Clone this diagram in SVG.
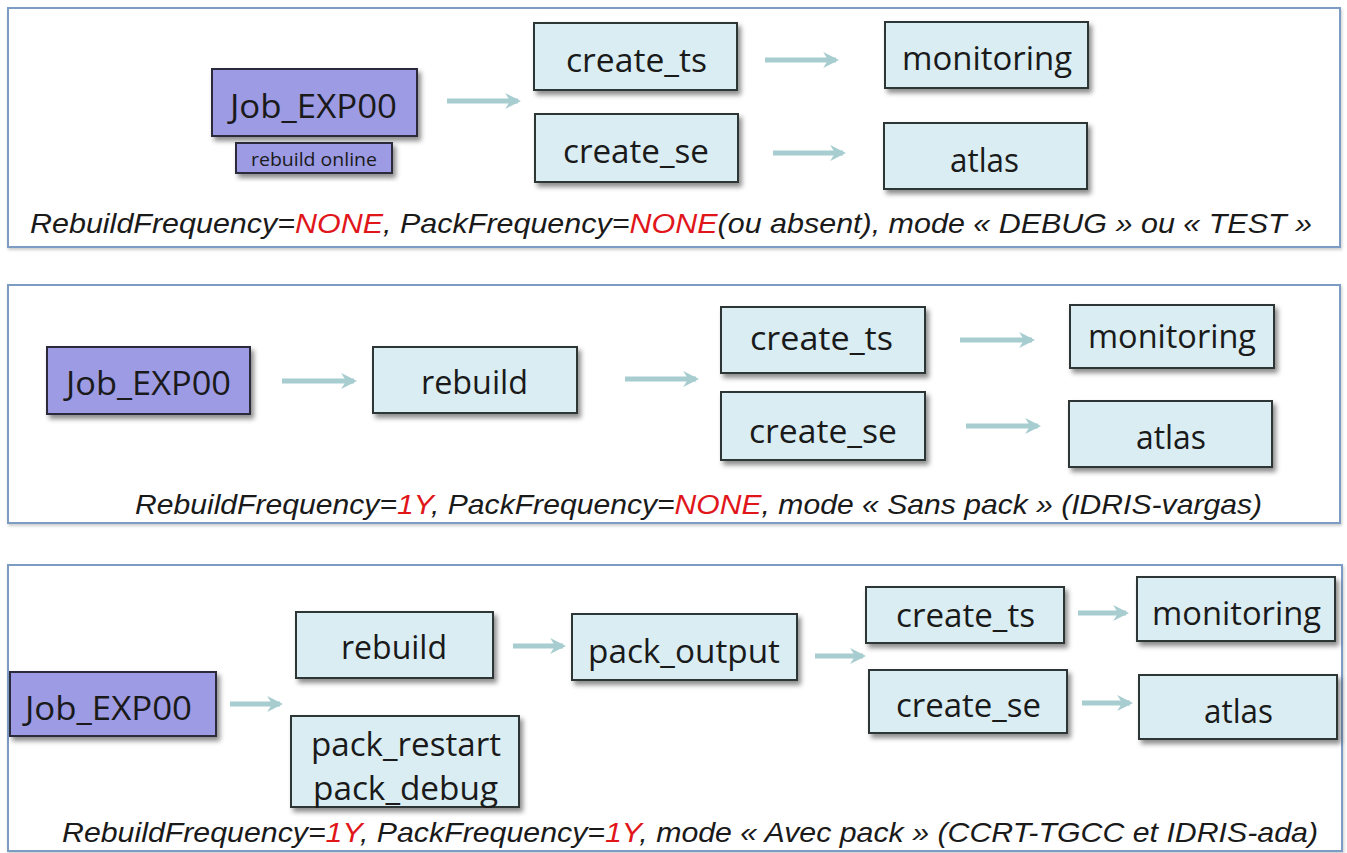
<svg xmlns="http://www.w3.org/2000/svg" width="1347" height="853" viewBox="0 0 1347 853">
<defs>
<filter id="sh" x="-10%" y="-10%" width="130%" height="140%">
<feDropShadow dx="3" dy="4" stdDeviation="2.5" flood-color="#000" flood-opacity="0.45"/>
</filter>
<filter id="psh" x="-2%" y="-5%" width="104%" height="110%">
<feDropShadow dx="1" dy="2" stdDeviation="1.5" flood-color="#000" flood-opacity="0.2"/>
</filter>
<marker id="ah" viewBox="0 0 10 10" refX="8" refY="5" markerWidth="3.2" markerHeight="3.2" orient="auto" markerUnits="strokeWidth">
<path d="M0,0 L10,5 L0,10 L3,5 Z" fill="#a8cdd0"/>
</marker>
</defs>
<style>
.panel{fill:#fff;stroke:#7d9cc4;stroke-width:2}
.job{fill:#9d9be4;stroke:#2a2a3a;stroke-width:2;filter:url(#sh)}
.task{fill:#d9edf3;stroke:#2f3435;stroke-width:2;filter:url(#sh)}
.t{font-family:"Open Sans","Noto Sans",sans-serif;font-size:32px;fill:#1a1a1a;text-anchor:start}
.s{font-family:"Open Sans","Noto Sans",sans-serif;font-size:19px;fill:#1a1a1a}
.cap{font-family:"Liberation Sans",Arial,sans-serif;font-style:italic;font-size:28px;fill:#1a1a1a}
.red{fill:#e0161b}
.arr{stroke:#a8cdd0;stroke-width:5;fill:none;marker-end:url(#ah)}
</style>
<rect width="1347" height="853" fill="#fff"/>

<g id="panels">
<rect class="panel" x="8" y="8" width="1332" height="239" filter="url(#psh)"/>
<rect class="panel" x="8" y="285" width="1332" height="238" filter="url(#psh)"/>
<rect class="panel" x="8" y="565" width="1334" height="286" filter="url(#psh)"/>
</g>

<g id="connectors">
<line class="arr" x1="447" y1="101" x2="518" y2="101"/>
<line class="arr" x1="765" y1="60" x2="836" y2="60"/>
<line class="arr" x1="773" y1="153" x2="843" y2="153"/>
<line class="arr" x1="282" y1="381" x2="354" y2="381"/>
<line class="arr" x1="625" y1="379" x2="696" y2="379"/>
<line class="arr" x1="960" y1="340" x2="1032" y2="340"/>
<line class="arr" x1="966" y1="426" x2="1038" y2="426"/>
<line class="arr" x1="230" y1="704" x2="280" y2="704"/>
<line class="arr" x1="513" y1="646" x2="563" y2="646"/>
<line class="arr" x1="815" y1="656" x2="863" y2="656"/>
<line class="arr" x1="1078" y1="613" x2="1126" y2="613"/>
<line class="arr" x1="1082" y1="703" x2="1130" y2="703"/>
</g>

<!-- Panel 1 -->
<g id="p1_job"><rect class="job" x="212" y="69" width="205" height="67"/><text class="t" x="230" y="118" textLength="167" lengthAdjust="spacingAndGlyphs">Job_EXP00</text></g>
<g id="p1_online"><rect class="job" x="236" y="143" width="156" height="30"/><text class="s" x="251" y="166" textLength="126" lengthAdjust="spacingAndGlyphs">rebuild online</text></g>
<g id="p1_create_ts"><rect class="task" x="534" y="23" width="203" height="67"/><text class="t" x="566" y="72" textLength="141" lengthAdjust="spacingAndGlyphs">create_ts</text></g>
<g id="p1_create_se"><rect class="task" x="535" y="114" width="203" height="68"/><text class="t" x="563" y="163" textLength="146" lengthAdjust="spacingAndGlyphs">create_se</text></g>
<g id="p1_monitoring"><rect class="task" x="885" y="22" width="203" height="66"/><text class="t" x="902" y="70" textLength="170" lengthAdjust="spacingAndGlyphs">monitoring</text></g>
<g id="p1_atlas"><rect class="task" x="884" y="123" width="203" height="66"/><text class="t" x="950" y="172" textLength="69" lengthAdjust="spacingAndGlyphs">atlas</text></g>
<text class="cap" x="30" y="233" textLength="1282" lengthAdjust="spacingAndGlyphs">RebuildFrequency=<tspan class="red">NONE</tspan>, PackFrequency=<tspan class="red">NONE</tspan>(ou absent), mode « DEBUG » ou « TEST »</text>

<!-- Panel 2 -->
<g id="p2_job"><rect class="job" x="47" y="347" width="203" height="67"/><text class="t" x="66" y="395" textLength="165" lengthAdjust="spacingAndGlyphs">Job_EXP00</text></g>
<g id="p2_rebuild"><rect class="task" x="373" y="347" width="204" height="66"/><text class="t" x="421" y="394" textLength="107" lengthAdjust="spacingAndGlyphs">rebuild</text></g>
<g id="p2_create_ts"><rect class="task" x="721" y="307" width="204" height="66"/><text class="t" x="750" y="350" textLength="143" lengthAdjust="spacingAndGlyphs">create_ts</text></g>
<g id="p2_create_se"><rect class="task" x="721" y="392" width="204" height="68"/><text class="t" x="749" y="443" textLength="148" lengthAdjust="spacingAndGlyphs">create_se</text></g>
<g id="p2_monitoring"><rect class="task" x="1070" y="305" width="204" height="63"/><text class="t" x="1088" y="348" textLength="168" lengthAdjust="spacingAndGlyphs">monitoring</text></g>
<g id="p2_atlas"><rect class="task" x="1069" y="401" width="203" height="66"/><text class="t" x="1136" y="449" textLength="70" lengthAdjust="spacingAndGlyphs">atlas</text></g>
<text class="cap" x="135" y="514" textLength="1127" lengthAdjust="spacingAndGlyphs">RebuildFrequency=<tspan class="red">1Y</tspan>, PackFrequency=<tspan class="red">NONE</tspan>, mode « Sans pack » (IDRIS-vargas)</text>

<!-- Panel 3 -->
<g id="p3_job"><rect class="job" x="10" y="672" width="206" height="64"/><text class="t" x="25" y="720" textLength="167" lengthAdjust="spacingAndGlyphs">Job_EXP00</text></g>
<g id="p3_rebuild"><rect class="task" x="296" y="612" width="197" height="66"/><text class="t" x="341" y="659" textLength="106" lengthAdjust="spacingAndGlyphs">rebuild</text></g>
<g id="p3_pack"><rect class="task" x="291" y="716" width="228" height="91"/><text class="t" x="311" y="756" textLength="190" lengthAdjust="spacingAndGlyphs">pack_restart</text><text class="t" x="313" y="800" textLength="185" lengthAdjust="spacingAndGlyphs">pack_debug</text></g>
<g id="p3_pack_output"><rect class="task" x="572" y="614" width="225" height="66"/><text class="t" x="588" y="663" textLength="192" lengthAdjust="spacingAndGlyphs">pack_output</text></g>
<g id="p3_create_ts"><rect class="task" x="866" y="587" width="198" height="56"/><text class="t" x="896" y="627" textLength="139" lengthAdjust="spacingAndGlyphs">create_ts</text></g>
<g id="p3_create_se"><rect class="task" x="869" y="670" width="198" height="63"/><text class="t" x="896" y="717" textLength="145" lengthAdjust="spacingAndGlyphs">create_se</text></g>
<g id="p3_monitoring"><rect class="task" x="1137" y="577" width="198" height="64"/><text class="t" x="1152" y="625" textLength="169" lengthAdjust="spacingAndGlyphs">monitoring</text></g>
<g id="p3_atlas"><rect class="task" x="1139" y="675" width="198" height="64"/><text class="t" x="1204" y="723" textLength="69" lengthAdjust="spacingAndGlyphs">atlas</text></g>
<text class="cap" x="62" y="842" textLength="1256" lengthAdjust="spacingAndGlyphs">RebuildFrequency=<tspan class="red">1Y</tspan>, PackFrequency=<tspan class="red">1Y</tspan>, mode « Avec pack » (CCRT-TGCC et IDRIS-ada)</text>
</svg>
